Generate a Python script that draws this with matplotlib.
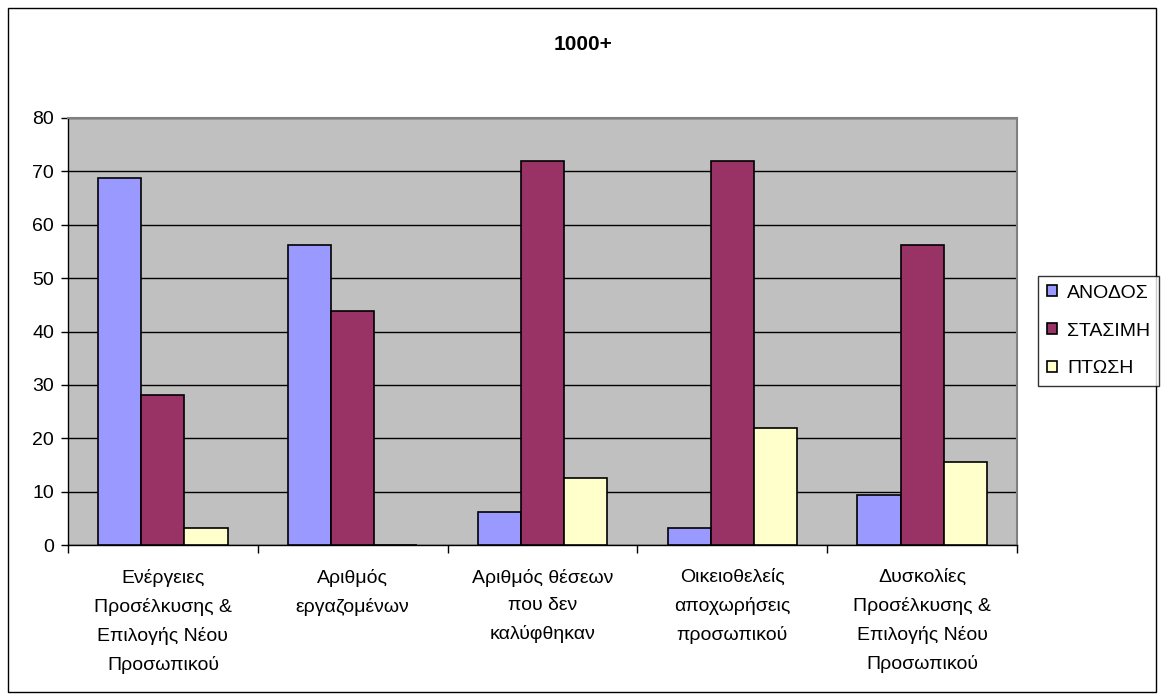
import matplotlib
matplotlib.use('Agg')
import matplotlib.pyplot as plt
import numpy as np
from matplotlib.patches import Rectangle

plt.rcParams['font.family'] = ['Liberation Sans', 'DejaVu Sans']

# data
title = '1000+'
categories = ['Ενέργειες\nΠροσέλκυσης &\nΕπιλογής Νέου\nΠροσωπικού',
              'Αριθμός\nεργαζομένων',
              'Αριθμός θέσεων\nπου δεν\nκαλύφθηκαν',
              'Οικειοθελείς\nαποχωρήσεις\nπροσωπικού',
              'Δυσκολίες\nΠροσέλκυσης &\nΕπιλογής Νέου\nΠροσωπικού']
series_names = ['ΑΝΟΔΟΣ', 'ΣΤΑΣΙΜΗ', 'ΠΤΩΣΗ']
anodos = [68.75, 56.25, 6.25, 3.13, 9.38]
stasimi = [28.13, 43.75, 71.88, 71.88, 56.25]
ptosi = [3.13, 0, 12.5, 21.88, 15.63]
colors = ['#9999FF', '#993366', '#FFFFCC']

fig = plt.figure(figsize=(11.64, 7), dpi=100)
# outer chart border
fig.patches.append(Rectangle((8 / 1164, 8 / 700), 1148 / 1164, 684 / 700,
                             transform=fig.transFigure, fill=False,
                             edgecolor='black', linewidth=1))

ax = fig.add_axes([68 / 1164, 1 - 545 / 700, 949 / 1164, 427 / 700])
ax.set_facecolor('#C0C0C0')

x = np.arange(len(categories))
w = 0.227
for i, (vals, name) in enumerate(zip([anodos, stasimi, ptosi], series_names)):
    ax.bar(x + (i - 1) * w, vals, width=w, color=colors[i], edgecolor='black',
           linewidth=1.2, label=name, zorder=3)

ax.set_xlim(-0.5, len(categories) - 0.5)
ax.set_ylim(0, 80)
ax.set_yticks(range(0, 81, 10))
ax.tick_params(axis='y', labelsize=14, length=5, direction='out', width=1, pad=5)
ax.yaxis.grid(True, color='black', linewidth=1, zorder=1)
ax.set_axisbelow(True)

# category ticks at boundaries, labels centred under groups
ax.set_xticks(np.arange(-0.5, len(categories), 1))
ax.set_xticklabels([])
ax.set_xticks(x, minor=True)
ax.set_xticklabels(categories, minor=True, fontsize=14, linespacing=1.8, va='top')
ax.tick_params(axis='x', which='major', length=6, direction='out', width=1)
ax.tick_params(axis='x', which='minor', length=0, pad=17)

for s in ['top', 'right']:
    ax.spines[s].set_color('#808080')
    ax.spines[s].set_linewidth(1.5)
for s in ['left', 'bottom']:
    ax.spines[s].set_color('black')
    ax.spines[s].set_linewidth(1)

fig.text(583 / 1164, 1 - 45 / 700, title, ha='center', va='center',
         fontsize=15, fontweight='bold')

leg = fig.legend(loc='center left', bbox_to_anchor=(1038 / 1164, 1 - 331 / 700),
                 fontsize=14, frameon=True, fancybox=False, edgecolor='black',
                 handlelength=0.52, handleheight=0.52, handletextpad=0.5,
                 labelspacing=1.07, borderpad=0.47, borderaxespad=0)
leg.get_frame().set_linewidth(1)

fig.savefig('out.png', dpi=100)
